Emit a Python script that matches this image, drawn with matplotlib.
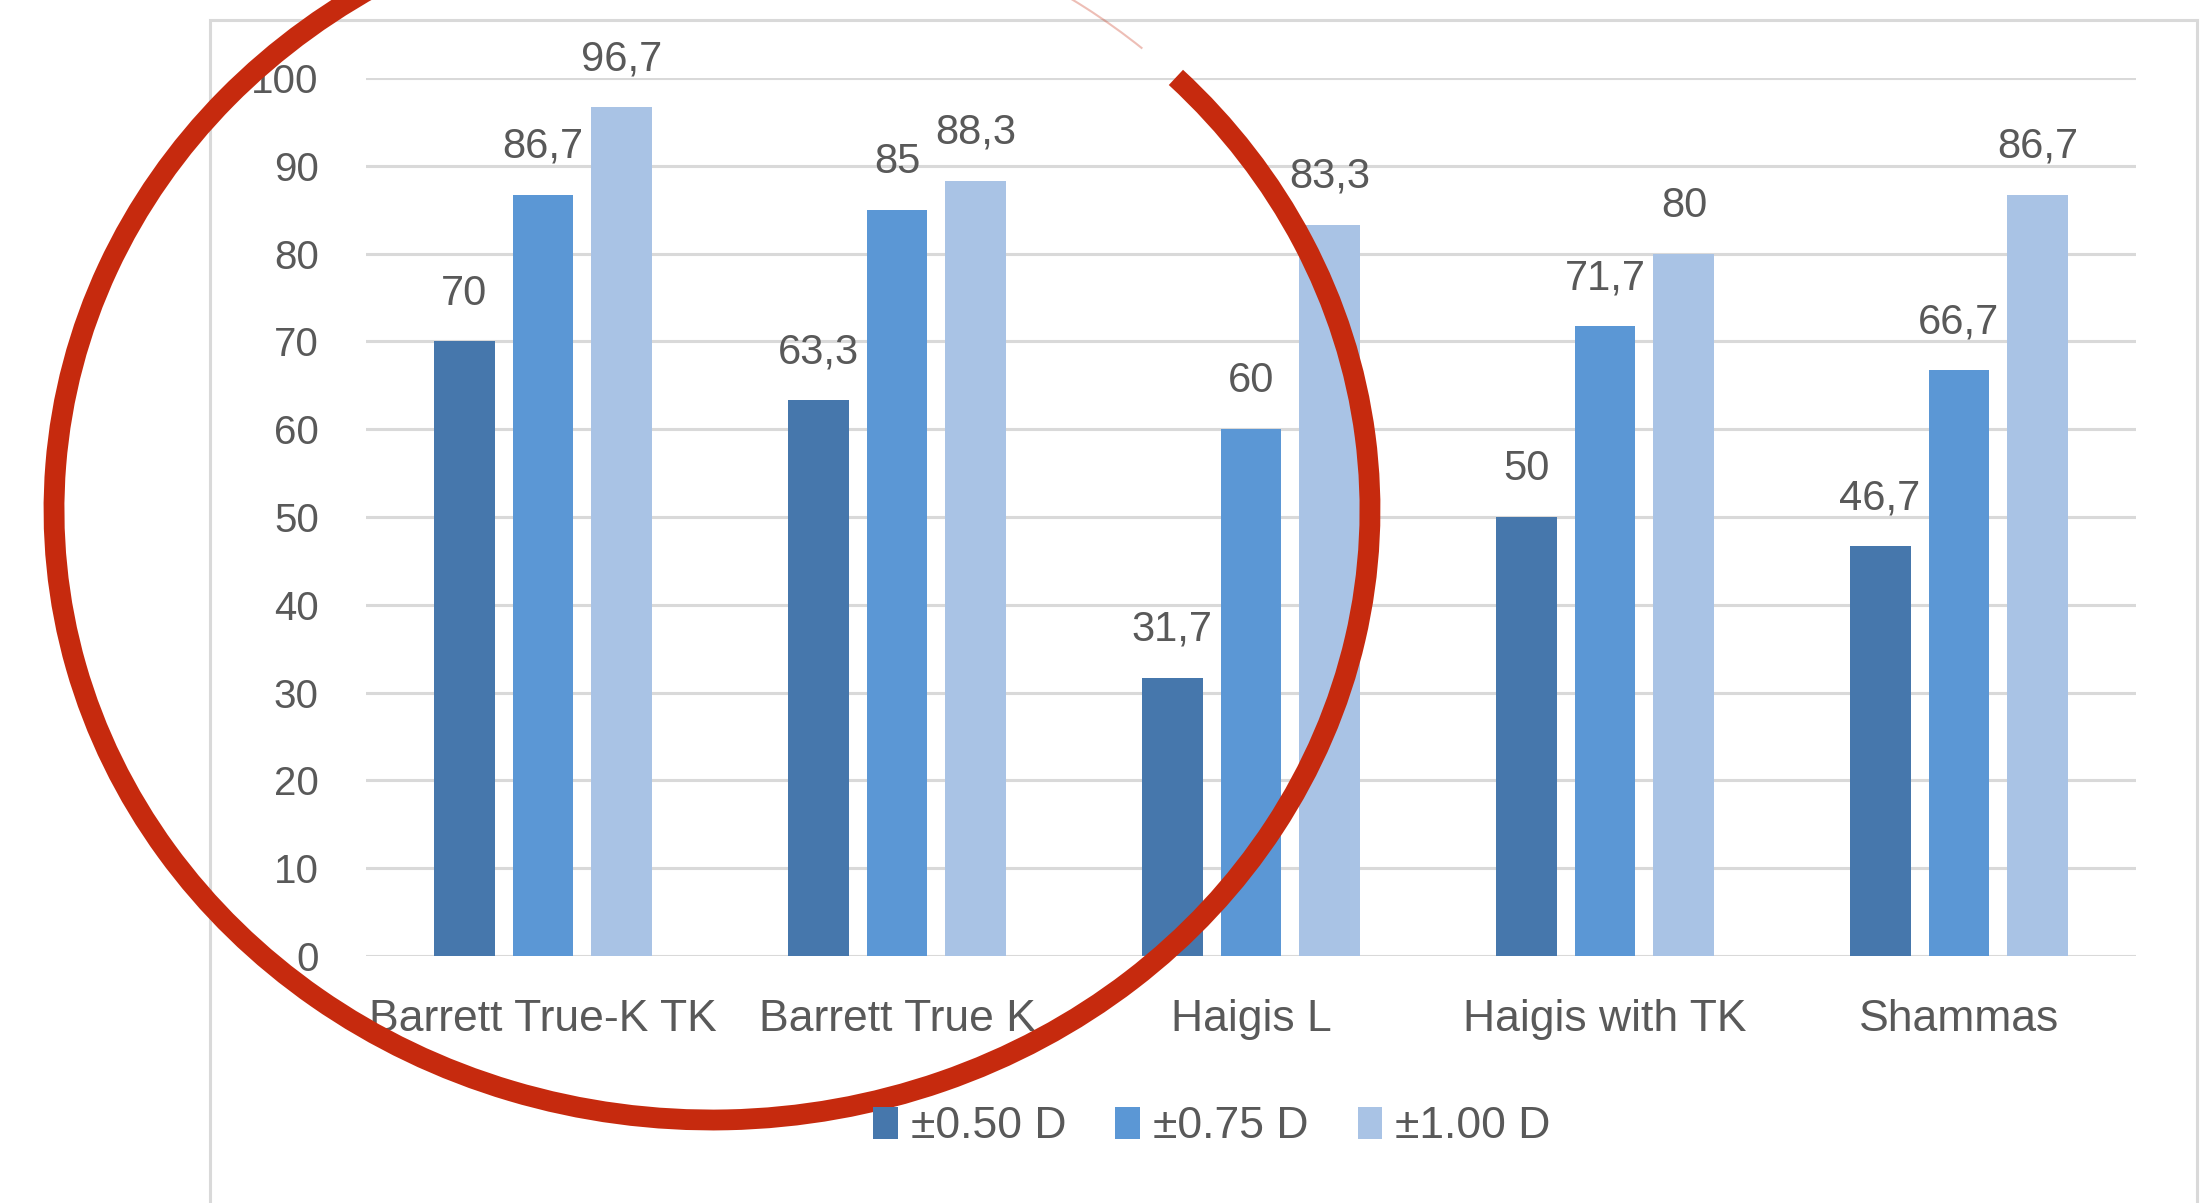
import matplotlib.pyplot as plt
import numpy as np
from matplotlib import font_manager
from matplotlib.patches import Arc, Rectangle

categories = ["Barrett True-K TK", "Barrett True K", "Haigis L", "Haigis with TK", "Shammas"]
within_050 = [70, 63.3, 31.7, 50, 46.7]
within_075 = [86.7, 85, 60, 71.7, 66.7]
within_100 = [96.7, 88.3, 83.3, 80, 86.7]
series_names = ["±0.50 D", "±0.75 D", "±1.00 D"]
colors = ["#4677AC", "#5B97D5", "#A9C3E5"]
yticks = [0, 10, 20, 30, 40, 50, 60, 70, 80, 90, 100]

W, H = 2203, 1203


def has_font(name):
    try:
        font_manager.findfont(name, fallback_to_default=False)
        return True
    except Exception:
        return False


main_font = "Liberation Sans" if has_font("Liberation Sans") else "DejaVu Sans"
text_col = "#595959"

fig = plt.figure(figsize=(W / 100, H / 100), dpi=100)
fig.patch.set_facecolor("white")

# chart frame
fig.patches.append(Rectangle((210 / W, -0.1), (2197 - 210) / W, 1.1 - 20 / H,
                             transform=fig.transFigure, fill=False,
                             edgecolor="#d9d9d9", linewidth=2.2))

ax = fig.add_axes([366 / W, 1 - 956 / H, (2136 - 366) / W, (956 - 78) / H])
x = np.arange(len(categories))
step = 0.223
bw = 0.172
all_series = [within_050, within_075, within_100]
for i, vals in enumerate(all_series):
    bars = ax.bar(x + (i - 1) * step, vals, width=bw, color=colors[i],
                  label=series_names[i], zorder=3)
    for b, v in zip(bars, vals):
        txt = f"{v:g}".replace(".", ",")
        ax.annotate(txt, (b.get_x() + b.get_width() / 2, v), xytext=(0, 20),
                    textcoords="offset points", ha="center", va="bottom",
                    fontsize=30, color=text_col, family=main_font,
                    annotation_clip=False)

ax.set_xlim(-0.5, len(categories) - 0.5)
ax.set_ylim(0, 100)
ax.set_yticks(yticks)
ax.set_yticklabels([str(t) for t in yticks], fontsize=29, color=text_col,
                   family=main_font)
ax.set_xticks(x)
ax.set_xticklabels(categories, fontsize=32, color=text_col, family=main_font)
ax.tick_params(axis="y", length=0, pad=34)
ax.tick_params(axis="x", length=0, pad=31)
ax.grid(axis="y", color="#d9d9d9", linewidth=2.2, zorder=0)
for s in ax.spines.values():
    s.set_visible(False)

leg = fig.legend(loc="center", bbox_to_anchor=(1212 / W, 1 - 1127 / H),
                 ncol=3, frameon=False, handlelength=0.55, handleheight=0.7,
                 handletextpad=0.3, columnspacing=1.1,
                 prop={"family": main_font, "size": 32})
for t in leg.get_texts():
    t.set_color(text_col)

# red annotation ellipse drawn over the chart (inch coordinates keep angles true)
cx, cy, rx, ry = 712, 510, 658, 610
centre = (cx / 100, (H - cy) / 100)
fig.patches.append(Arc(centre, 2 * rx / 100, 2 * ry / 100,
                       theta1=100, theta2=43, transform=fig.dpi_scale_trans,
                       color="#C62A0E", linewidth=15))
fig.patches.append(Arc(centre, 2 * rx / 100, 2 * ry / 100,
                       theta1=47, theta2=60, transform=fig.dpi_scale_trans,
                       color="#C62A0E", linewidth=1.5, alpha=0.3))

fig.savefig("out.png", dpi=100, facecolor="white")
